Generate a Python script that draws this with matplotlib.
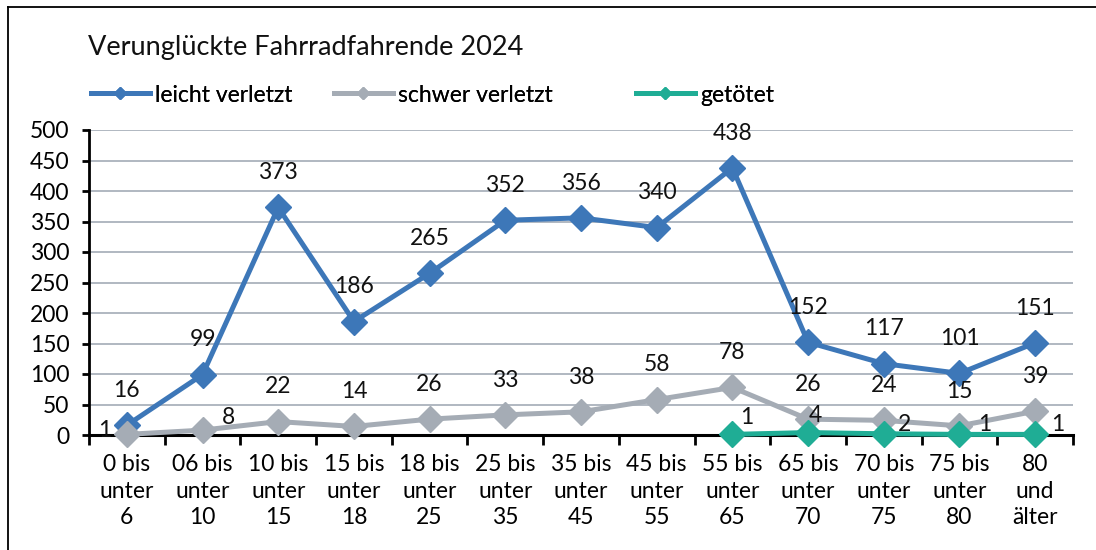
import matplotlib.pyplot as plt
import numpy as np
from matplotlib.lines import Line2D

plt.rcParams['font.family'] = ['Lato', 'DejaVu Sans']

# Daten
kategorien = ['0 bis\nunter\n6', '06 bis\nunter\n10', '10 bis\nunter\n15', '15 bis\nunter\n18',
              '18 bis\nunter\n25', '25 bis\nunter\n35', '35 bis\nunter\n45', '45 bis\nunter\n55',
              '55 bis\nunter\n65', '65 bis\nunter\n70', '70 bis\nunter\n75', '75 bis\nunter\n80',
              '80\nund\nälter']
leicht = [16, 99, 373, 186, 265, 352, 356, 340, 438, 152, 117, 101, 151]
schwer = [1, 8, 22, 14, 26, 33, 38, 58, 78, 26, 24, 15, 39]
getoetet = [np.nan] * 8 + [1, 4, 2, 1, 1]

# Farben
c_leicht = '#3D77B8'
c_schwer = '#A5ACB5'
c_tot = '#1FAD95'

# Versatz der Beschriftungen (Punkte)
off_leicht = [(0, 25)] * 13
off_schwer = [(-16, 3), (19, 9)] + [(0, 25)] * 11
off_tot = [(10, 12), (5, 12), (15, 7), (18, 7), (16, 7)]

fs = 16.5
fig = plt.figure(figsize=(10.96, 5.5), dpi=100)
ax = fig.add_axes([89 / 1096, 1 - 435 / 550, (1073 - 89) / 1096, (435 - 130) / 550])

x = np.arange(len(kategorien))
lw, ms = 3.6, 13
l1, = ax.plot(x, leicht, color=c_leicht, lw=lw, marker='D', ms=ms, label='leicht verletzt',
              zorder=3, clip_on=False)
l2, = ax.plot(x, schwer, color=c_schwer, lw=lw, marker='D', ms=ms, label='schwer verletzt',
              zorder=4, clip_on=False)
l3, = ax.plot(x, getoetet, color=c_tot, lw=lw, marker='D', ms=ms, label='getötet',
              zorder=5, clip_on=False)

# Datenbeschriftung
for serie, offs in ((leicht, off_leicht), (schwer, off_schwer)):
    for xi, v, o in zip(x, serie, offs):
        ax.annotate(str(v), (xi, v), xytext=o, textcoords='offset points',
                    ha='center', va='center', fontsize=fs, color='#111111', zorder=6)
for xi, v, o in zip(x[8:], getoetet[8:], off_tot):
    ax.annotate(str(v), (xi, v), xytext=o, textcoords='offset points',
                ha='center', va='center', fontsize=fs, color='#111111', zorder=6)

ax.set_xlim(-0.5, len(kategorien) - 0.5)
ax.set_ylim(0, 500)
ax.set_yticks(np.arange(0, 501, 50))
ax.set_xticks(x)
ax.set_xticklabels(kategorien, fontsize=fs, linespacing=1.32)
ax.set_xticks(np.arange(-0.5, len(kategorien)), minor=True)
ax.tick_params(axis='x', which='major', length=0, pad=14)
ax.tick_params(axis='x', which='minor', length=7, width=2, direction='out')
ax.tick_params(axis='y', labelsize=fs, length=5, width=2, direction='out', pad=9)
ax.grid(axis='y', color='#A3ABB6', lw=1.2)
ax.set_axisbelow(True)
for s in ('top', 'right'):
    ax.spines[s].set_visible(False)
ax.spines['left'].set_linewidth(2)
ax.spines['bottom'].set_linewidth(2.2)

# Titel
fig.text(88 / 1096, 1 - 47 / 550, 'Verunglückte Fahrradfahrende 2024', fontsize=19.5,
         ha='left', va='center', color='#111111')

# Legende: jeder Eintrag einzeln platziert
for h, lx in zip((l1, l2, l3), (70, 313, 615)):
    lg = fig.legend(handles=[h], loc='center left', bbox_to_anchor=(lx / 1096, 1 - 95 / 550),
                    frameon=False, fontsize=fs, handlelength=2.6, handletextpad=0.2,
                    markerscale=0.5)
    fig.add_artist(lg)

# Rahmen
fig.add_artist(Line2D([8 / 1096, 8 / 1096], [0, 1 - 7 / 550], color='black', lw=1.3))
fig.add_artist(Line2D([8 / 1096, 1], [1 - 7 / 550, 1 - 7 / 550], color='black', lw=1.3))

fig.savefig('out.png', dpi=100)
